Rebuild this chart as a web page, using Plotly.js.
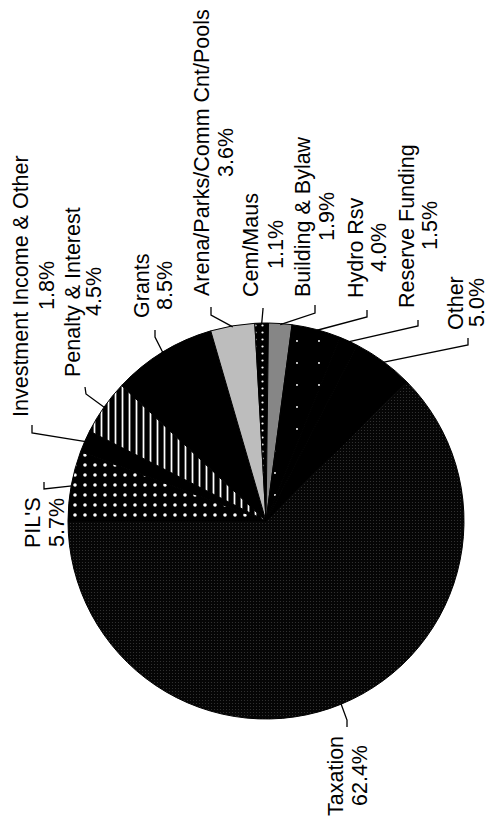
<!DOCTYPE html>
<html>
<head>
<meta charset="utf-8">
<script src="https://cdn.plot.ly/plotly-3.0.1.min.js"></script>
<style>
  html, body { margin: 0; padding: 0; background: #fff; overflow: hidden; }
  #chart { width: 491px; height: 822px; }
</style>
</head>
<body>
<div id="chart"></div>
<script>
// ---- data ----
const categories = ["PIL'S", "Investment Income & Other", "Penalty & Interest", "Grants",
  "Arena/Parks/Comm Cnt/Pools", "Cem/Maus", "Building & Bylaw", "Hydro Rsv",
  "Reserve Funding", "Other", "Taxation"];
const shares = [5.7, 1.8, 4.5, 8.5, 3.6, 1.1, 1.9, 4.0, 1.5, 5.0, 62.4];
const shareLabels = shares.map(v => v.toFixed(1) + '%');

// ---- styles (fills) ----
const patShape = ['.', '', '|', '', '', '.', '', '.', '', '', '.'];
const patBg    = ['#000', '#000', '#000', '#000', '#bdbdbd', '#000', '#868686', '#000', '#000', '#000', '#050505'];
const patFg    = ['#fff', '#000', '#fff', '#000', '#bdbdbd', '#fff', '#868686', '#fff', '#000', '#000', '#3c3c3c'];
const patSize  = [10, 8, 7, 8, 8, 7, 8, 22, 8, 8, 3];
const patSolid = [0.1, 0.3, 0.25, 0.3, 0.3, 0.08, 0.3, 0.006, 0.3, 0.3, 0.1];

// ---- layout geometry (page pixels) ----
const W = 491, H = 822;
const CX = 266, CY = 521, R = 198;
const ROT = -90; // first slice starts at 9 o'clock, clockwise
// label placement: [nameLineX, pctLineX, centerY]
const labelPos = [
  [33, 57, 523], [21, 47, 286], [73, 94, 292], [142, 165, 286], [202, 226, 153],
  [251, 276, 245], [303, 327, 217], [356, 379, 248], [407, 430, 226], [456, 477, 303],
  [336, 360, 776]
];
// leader start: [x1, y1, x2, y2]
const leaderPos = [
  [44, 482, 44, 489], [32, 425, 32, 433], [85, 387, 86, 394], [155, 330, 155, 337],
  [211, 307, 211, 315], [263, 308, 263, 309], [315, 305, 315, 313], [367, 310, 367, 317],
  [418, 320, 418, 326], [468, 338, 468, 345], [347, 727, 347, 720]
];

const px = x => x / W;
const py = y => 1 - y / H;

const total = shares.reduce((a, b) => a + b, 0);
let cum = 0;
const annotations = [];
const shapes = [];
categories.forEach((name, i) => {
  const mid = (cum + shares[i] / 2) / total;
  cum += shares[i];
  const ang = (ROT + mid * 360) * Math.PI / 180;
  const ex = CX + (R - 1) * Math.sin(ang);
  const ey = CY - (R - 1) * Math.cos(ang);
  const [nx, pxl, cy] = labelPos[i];
  const font = {family: 'Liberation Sans, Arial, sans-serif', size: 21.5, color: '#000'};
  annotations.push({xref: 'paper', yref: 'paper', x: px(nx), y: py(cy), text: name,
    textangle: -90, showarrow: false, xanchor: 'center', yanchor: 'middle', font});
  annotations.push({xref: 'paper', yref: 'paper', x: px(pxl), y: py(cy), text: shareLabels[i],
    textangle: -90, showarrow: false, xanchor: 'center', yanchor: 'middle', font});
  const [x1, y1, x2, y2] = leaderPos[i];
  shapes.push({type: 'path', xref: 'paper', yref: 'paper',
    path: `M ${px(x1)} ${py(y1)} L ${px(x2)} ${py(y2)} L ${px(ex)} ${py(ey)}`,
    line: {color: '#000', width: 1.3}});
});

const trace = {
  type: 'pie',
  labels: categories,
  values: shares,
  sort: false,
  direction: 'clockwise',
  rotation: ROT,
  textinfo: 'none',
  hoverinfo: 'label+percent',
  domain: {x: [(CX - R) / W, (CX + R) / W], y: [1 - (CY + R) / H, 1 - (CY - R) / H]},
  marker: {
    colors: patBg,
    line: {color: '#000', width: 1},
    pattern: {shape: patShape, bgcolor: patBg, fgcolor: patFg, size: patSize,
      solidity: patSolid, fillmode: 'replace'}
  }
};

const layout = {
  width: W, height: H,
  margin: {l: 0, r: 0, t: 0, b: 0},
  paper_bgcolor: '#fff',
  showlegend: false,
  annotations, shapes
};

Plotly.newPlot('chart', [trace], layout, {displayModeBar: false, staticPlot: true});
</script>
</body>
</html>
